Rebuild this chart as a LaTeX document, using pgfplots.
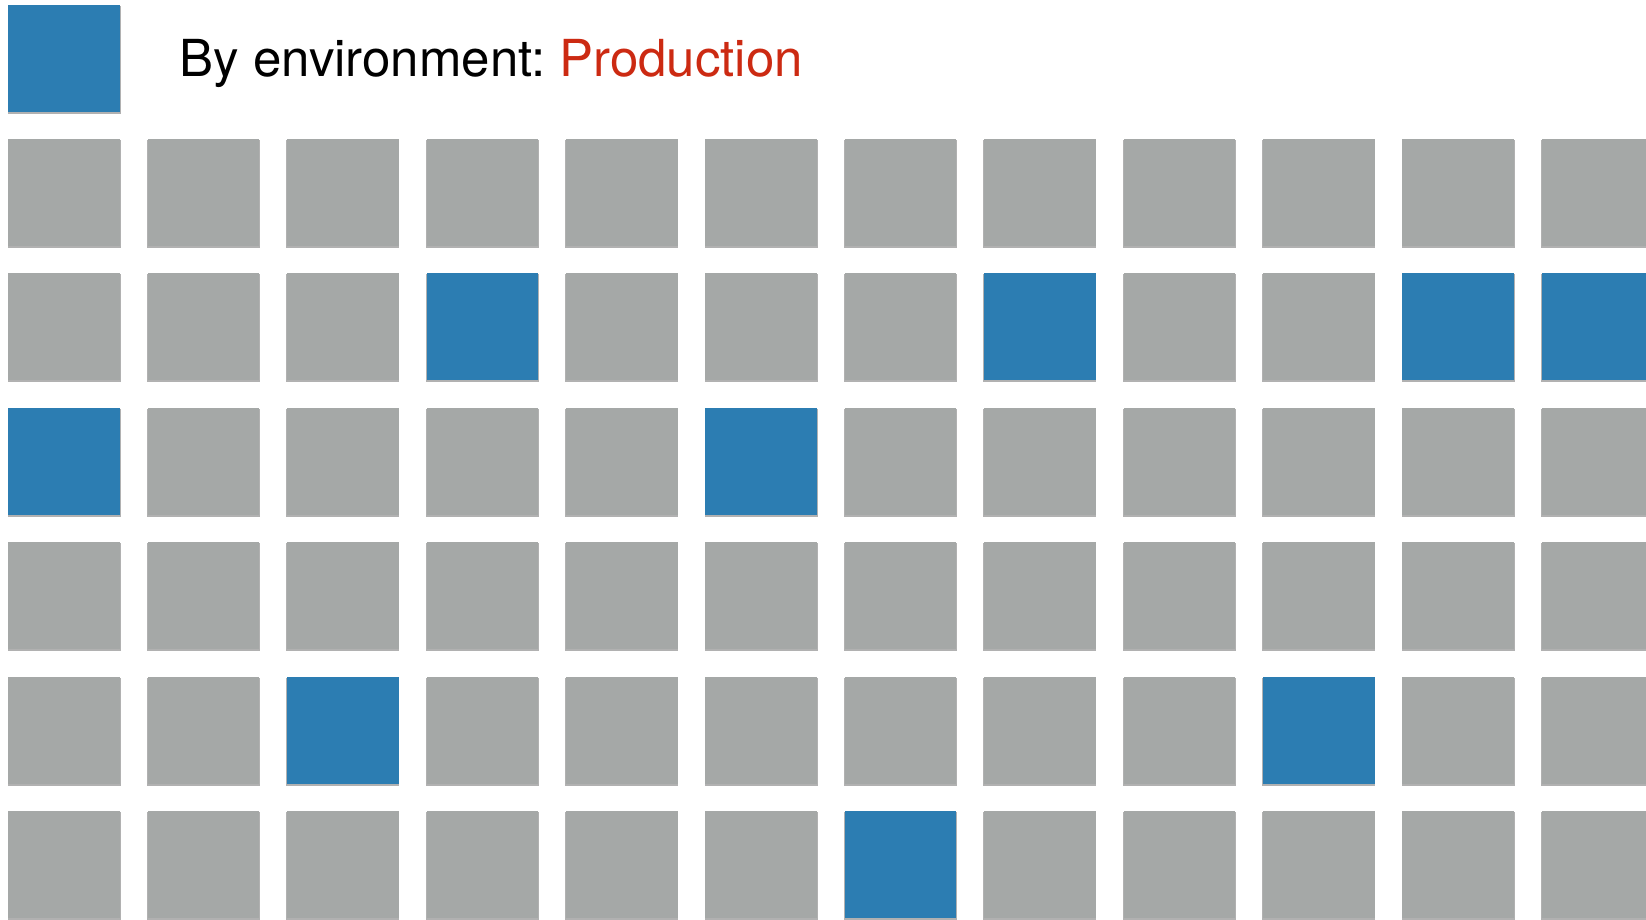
\documentclass[border=0pt]{standalone}
\usepackage{pgfplots}
\usepackage{pgfplotstable}
\pgfplotsset{compat=1.18}
\usepackage{fontspec}
\setmainfont{TeX Gyre Heros}
\frenchspacing
\definecolor{cellgray}{RGB}{165,168,167}
\definecolor{cellblue}{RGB}{44,125,178}
\definecolor{shadowgray}{RGB}{100,100,100}
\definecolor{titlered}{RGB}{204,42,18}
\pgfdeclareplotmark{cell}{\pgfpathrectangle{\pgfpoint{-16.75pt}{-16.05pt}}{\pgfpoint{33.5pt}{32.1pt}}\pgfusepathqfill}
\pgfdeclareplotmark{cellshadow}{\pgfpathrectangle{\pgfpoint{-16.95pt}{-16.65pt}}{\pgfpoint{33.9pt}{32.4pt}}\pgfusepathqfill}
% grey cells: column c, row r
\pgfplotstableread{
c r
1 1
2 1
3 1
4 1
5 1
6 1
7 1
8 1
9 1
10 1
11 1
12 1
1 2
2 2
3 2
5 2
6 2
7 2
9 2
10 2
2 3
3 3
4 3
5 3
7 3
8 3
9 3
10 3
11 3
12 3
1 4
2 4
3 4
4 4
5 4
6 4
7 4
8 4
9 4
10 4
11 4
12 4
1 5
2 5
4 5
5 5
6 5
7 5
8 5
9 5
11 5
12 5
1 6
2 6
3 6
4 6
5 6
6 6
8 6
9 6
10 6
11 6
12 6
}\graycells
% blue cells (Production)
\pgfplotstableread{
c r
4 2
8 2
11 2
12 2
1 3
6 3
3 5
10 5
7 6
}\bluecells
\begin{document}
\begin{tikzpicture}
\begin{axis}[
  scale only axis,
  width=493.8pt, height=276pt,
  xmin=0.5398, xmax=12.3474,
  ymin=-0.4323, ymax=6.4129,
  y dir=reverse,
  hide axis,
  clip=true,
]
% shadows
\addplot[only marks, mark=cellshadow, mark options={fill=shadowgray, draw=none, fill opacity=0.5}] table[x=c,y=r] {\graycells};
\addplot[only marks, mark=cellshadow, mark options={fill=shadowgray, draw=none, fill opacity=0.5}] table[x=c,y=r] {\bluecells};
\addplot[only marks, mark=cellshadow, mark options={fill=shadowgray, draw=none, fill opacity=0.5}] coordinates {(1,0)};
% cells
\addplot[only marks, mark=cell, mark options={fill=cellgray, draw=none}] table[x=c,y=r] {\graycells};
\addplot[only marks, mark=cell, mark options={fill=cellblue, draw=none}] table[x=c,y=r] {\bluecells};
% legend square
\addplot[only marks, mark=cell, mark options={fill=cellblue, draw=none}] coordinates {(1,0)};
\node[anchor=base west, inner sep=0pt, font=\fontsize{15.3pt}{18pt}\selectfont] at (axis cs:1.822,0.1332) {By environment: \textcolor{titlered}{Production}};
\end{axis}
\pgfresetboundingbox
\path[use as bounding box] (current axis.south west) rectangle (current axis.north east);
\end{tikzpicture}
\end{document}
